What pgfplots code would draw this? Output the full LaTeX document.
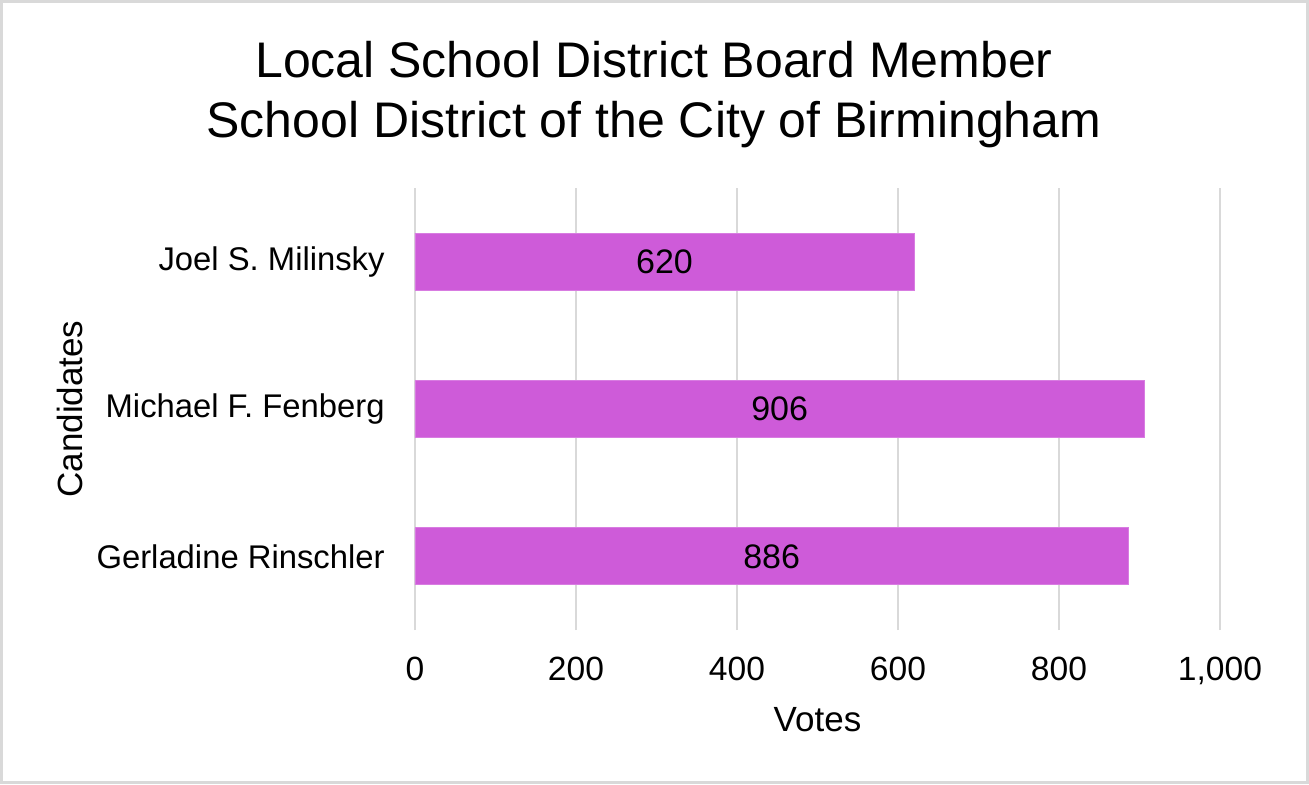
\documentclass[border=0pt]{standalone}
\usepackage{fontspec}
\setmainfont{Liberation Sans}
\usepackage{pgfplots}
\pgfplotsset{compat=1.18}
\definecolor{barpink}{RGB}{206,91,217}
\definecolor{gridgray}{RGB}{217,217,217}

\begin{document}
\begin{tikzpicture}
\useasboundingbox (-207.5pt,-77pt) rectangle (447pt,315pt);
\draw[gridgray, line width=1.2pt] (-206.8pt,-76.3pt) rectangle (446.3pt,314.3pt);
\node[font=\fontsize{25}{30}\selectfont, align=center] at (119.5pt,267.5pt)
  {Local School District Board Member\\School District of the City of Birmingham};
\begin{axis}[
  scale only axis, width=402.5pt, height=221pt,
  xmin=0, xmax=1000, ymin=-0.5, ymax=2.5,
  xtick={0,200,...,1000},
  ytick={0,1,2},
  yticklabels={Gerladine Rinschler, Michael F. Fenberg, Joel S. Milinsky},
  scaled x ticks=false,
  /pgf/number format/1000 sep={,},
  /pgf/number format/assume math mode=true,
  xmajorgrids=true,
  grid style={gridgray, line width=1.4pt},
  axis line style={draw=none},
  tick style={draw=none},
  xticklabel style={font=\fontsize{16.8}{18}\selectfont, anchor=base, yshift=-25pt},
  yticklabel style={font=\fontsize{16.4}{18}\selectfont, anchor=east, inner sep=0pt, xshift=-15pt},
  xlabel={Votes},
  ylabel={Candidates},
  xlabel style={font=\fontsize{17.5}{20}\selectfont, at={(axis description cs:0.5,-0.2036)}, anchor=center},
  ylabel style={font=\fontsize{17.5}{20}\selectfont, at={(axis description cs:-0.4286,0.5)}, anchor=center},
]
\addplot[xbar, bar width=28.5pt, fill=barpink, draw=barpink!80!white, line width=0.4pt,
  nodes near coords,
  visualization depends on={0.5*rawx \as \halfx},
  every node near coord/.append style={font=\fontsize{17}{20}\selectfont, black, anchor=center,
    shift={(axis direction cs:-\halfx,0)}}]
  coordinates {(886,0) (906,1) (620,2)};
\end{axis}
\end{tikzpicture}
\end{document}
